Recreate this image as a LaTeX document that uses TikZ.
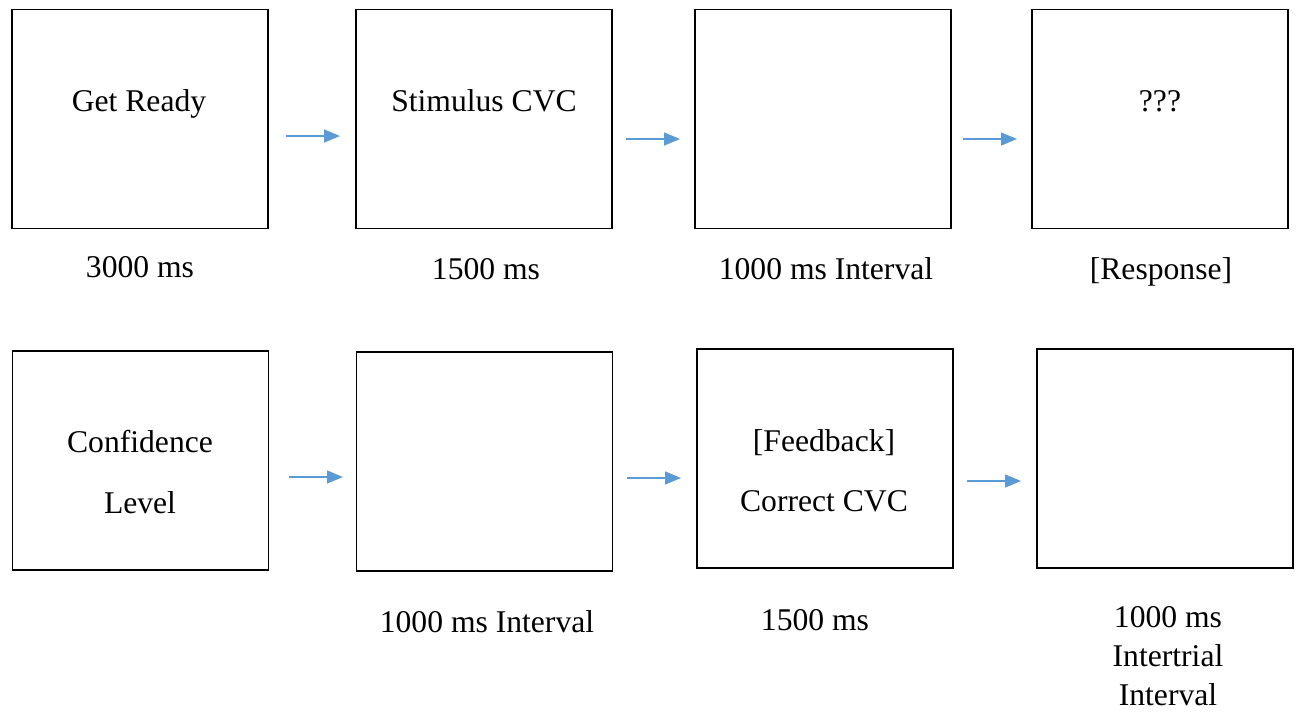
\documentclass[tikz,border=0pt]{standalone}
\usepackage{fontspec}
\setmainfont{Liberation Serif}
\usetikzlibrary{arrows.meta}
\definecolor{flowblue}{HTML}{5B9BD5}
\begin{document}
\begin{tikzpicture}[x=0.02cm, y=-0.02cm,
    screen/.style={draw, line width=1pt, minimum width=5.12cm, minimum height=4.38cm, inner sep=0pt},
    txt/.style={anchor=base, inner sep=0pt, font=\fontsize{18}{22}\selectfont},
    flow/.style={-{Triangle[length=0.32cm, width=0.26cm]}, flowblue, line width=0.85pt}]
  \useasboundingbox (0,0) rectangle (1296,711);

  % first row of screens
  \node [screen] (ready) at (140,119) {};
  \node [screen] (stim)  at (484,119) {};
  \node [screen] (gapa)  at (823,119) {};
  \node [screen] (resp)  at (1160,119) {};

  \node [txt] (ready-in) at (139,111)  {Get Ready};
  \node [txt] (stim-in)  at (484,111)  {Stimulus CVC};
  \node [txt] (resp-in)  at (1160,111) {???};

  \node [txt] (ready-t) at (140,277)  {3000 ms};
  \node [txt] (stim-t)  at (486,279)  {1500 ms};
  \node [txt] (gapa-t)  at (826,279)  {1000 ms Interval};
  \node [txt] (resp-t)  at (1161,279) {[Response]};

  \coordinate (a1) at (286,136);  \coordinate (b1) at (340,136);
  \coordinate (a2) at (626,139);  \coordinate (b2) at (680,139);
  \coordinate (a3) at (963,139);  \coordinate (b3) at (1017,139);
  \draw [flow] (a1) -- (b1);
  \draw [flow] (a2) -- (b2);
  \draw [flow] (a3) -- (b3);

  % second row of screens
  \node [screen] (conf) at (140.5,460.5) {};
  \node [screen] (gapb) at (484.5,461.5) {};
  \node [screen] (fb)   at (825,458.5) {};
  \node [screen] (iti)  at (1165,458.5) {};

  \node [txt] (conf-in1) at (140,452) {Confidence};
  \node [txt] (conf-in2) at (140,513) {Level};
  \node [txt] (fb-in1)   at (824,451) {[Feedback]};
  \node [txt] (fb-in2)   at (824,511) {Correct CVC};

  \node [txt] (gapb-t)  at (487,632)  {1000 ms Interval};
  \node [txt] (fb-t)    at (815,630)  {1500 ms};
  \node [txt] (iti-t1)  at (1168,627) {1000 ms};
  \node [txt] (iti-t2)  at (1168,666) {Intertrial};
  \node [txt] (iti-t3)  at (1168,705) {Interval};

  \coordinate (a4) at (289,477);  \coordinate (b4) at (343,477);
  \coordinate (a5) at (627,478);  \coordinate (b5) at (681,478);
  \coordinate (a6) at (967,481);  \coordinate (b6) at (1021,481);
  \draw [flow] (a4) -- (b4);
  \draw [flow] (a5) -- (b5);
  \draw [flow] (a6) -- (b6);
\end{tikzpicture}
\end{document}
